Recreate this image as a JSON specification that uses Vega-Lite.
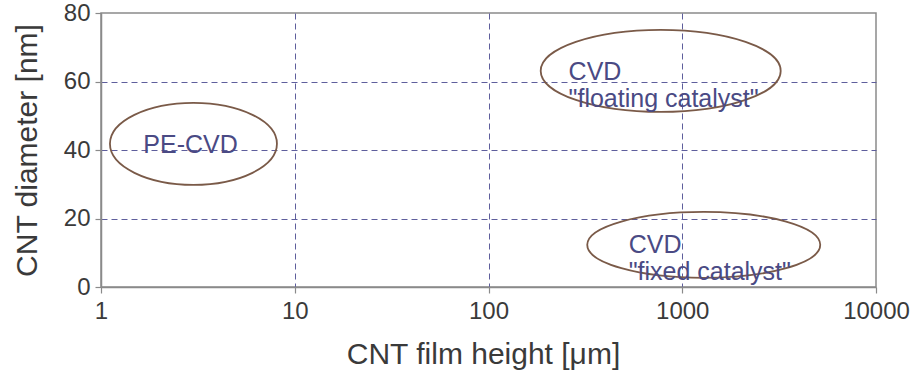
{
  "$schema": "https://vega.github.io/schema/vega-lite/v6.json",
  "width": 775,
  "height": 274,
  "autosize": {"type": "none"},
  "padding": {"left": 101, "top": 13, "right": 36, "bottom": 92},
  "background": "white",
  "config": {
    "font": "Liberation Sans",
    "view": {"stroke": "#8a8a8a", "strokeWidth": 1.5},
    "axis": {
      "domainColor": "#8a8a8a",
      "domainWidth": 1.5,
      "tickColor": "#8a8a8a",
      "tickWidth": 1.2,
      "tickSize": 6,
      "labelFont": "Liberation Sans",
      "labelFontSize": 24,
      "labelColor": "#3a3a3a",
      "labelFlush": false,
      "labelOverlap": false,
      "titleFont": "Liberation Sans",
      "titleFontSize": 30,
      "titleFontWeight": "normal",
      "titleColor": "#3a3a3a",
      "gridColor": "#5e5e9c",
      "gridDash": [6, 4],
      "gridWidth": 1
    }
  },
  "datasets": {
    "regions": [
      {"name": "PE-CVD", "height_um": 3.0, "diameter_nm": 41.8},
      {"name": "floating", "height_um": 774, "diameter_nm": 63.1},
      {"name": "fixed", "height_um": 1291, "diameter_nm": 12.3}
    ],
    "labels": [
      {"label": "PE-CVD", "height_um": 2.9, "diameter_nm": 41.5, "pos": "center"},
      {"label": "CVD\n\"floating catalyst\"", "height_um": 259, "diameter_nm": 62.8, "pos": "left"},
      {"label": "CVD\n\"fixed catalyst\"", "height_um": 529, "diameter_nm": 12.4, "pos": "left"}
    ]
  },
  "encoding": {
    "x": {
      "field": "height_um",
      "type": "quantitative",
      "scale": {"type": "log", "domain": [1, 10000], "nice": false},
      "axis": {
        "title": "CNT film height [μm]",
        "values": [1, 10, 100, 1000, 10000],
        "format": "d",
        "labelPadding": 6,
        "grid": true,
        "gridOpacity": {"condition": {"test": "datum.value === 1 || datum.value === 10000", "value": 0}, "value": 1},
        "titleX": 382,
        "titleY": 76,
        "titleBaseline": "alphabetic",
        "titleAnchor": "middle",
        "titleAlign": "center"
      }
    },
    "y": {
      "field": "diameter_nm",
      "type": "quantitative",
      "scale": {"domain": [0, 80], "nice": false},
      "axis": {
        "title": "CNT diameter [nm]",
        "values": [0, 20, 40, 60, 80],
        "labelPadding": 5,
        "grid": true,
        "gridOpacity": {"condition": {"test": "datum.value === 0 || datum.value === 80", "value": 0}, "value": 1},
        "titleX": -74,
        "titleY": 137,
        "titleAngle": 270,
        "titleBaseline": "middle",
        "titleAlign": "center"
      }
    }
  },
  "layer": [
    {
      "data": {"name": "regions"},
      "transform": [{"filter": "datum.name === 'PE-CVD'"}],
      "mark": {"type": "point", "shape": "M-1,0A1,0.491,0,1,1,1,0A1,0.491,0,1,1,-1,0Z", "size": 27889, "filled": false, "stroke": "#7a5a48", "strokeWidth": 1.8, "opacity": 1}
    },
    {
      "data": {"name": "regions"},
      "transform": [{"filter": "datum.name === 'floating'"}],
      "mark": {"type": "point", "shape": "M-1,0A1,0.342,0,1,1,1,0A1,0.342,0,1,1,-1,0Z", "size": 57600, "filled": false, "stroke": "#7a5a48", "strokeWidth": 1.8, "opacity": 1}
    },
    {
      "data": {"name": "regions"},
      "transform": [{"filter": "datum.name === 'fixed'"}],
      "mark": {"type": "point", "shape": "M-1,0A1,0.283,0,1,1,1,0A1,0.283,0,1,1,-1,0Z", "size": 54289, "filled": false, "stroke": "#7a5a48", "strokeWidth": 1.8, "opacity": 1}
    },
    {
      "data": {"name": "labels"},
      "transform": [{"filter": "datum.pos === 'center'"}],
      "mark": {"type": "text", "align": "center", "baseline": "middle", "fontSize": 25, "font": "Liberation Sans", "color": "#4a4a84"},
      "encoding": {"text": {"field": "label"}}
    },
    {
      "data": {"name": "labels"},
      "transform": [{"filter": "datum.pos === 'left'"}],
      "mark": {"type": "text", "align": "left", "baseline": "middle", "fontSize": 25, "lineHeight": 27, "lineBreak": "\n", "font": "Liberation Sans", "color": "#4a4a84"},
      "encoding": {"text": {"field": "label"}}
    }
  ]
}
